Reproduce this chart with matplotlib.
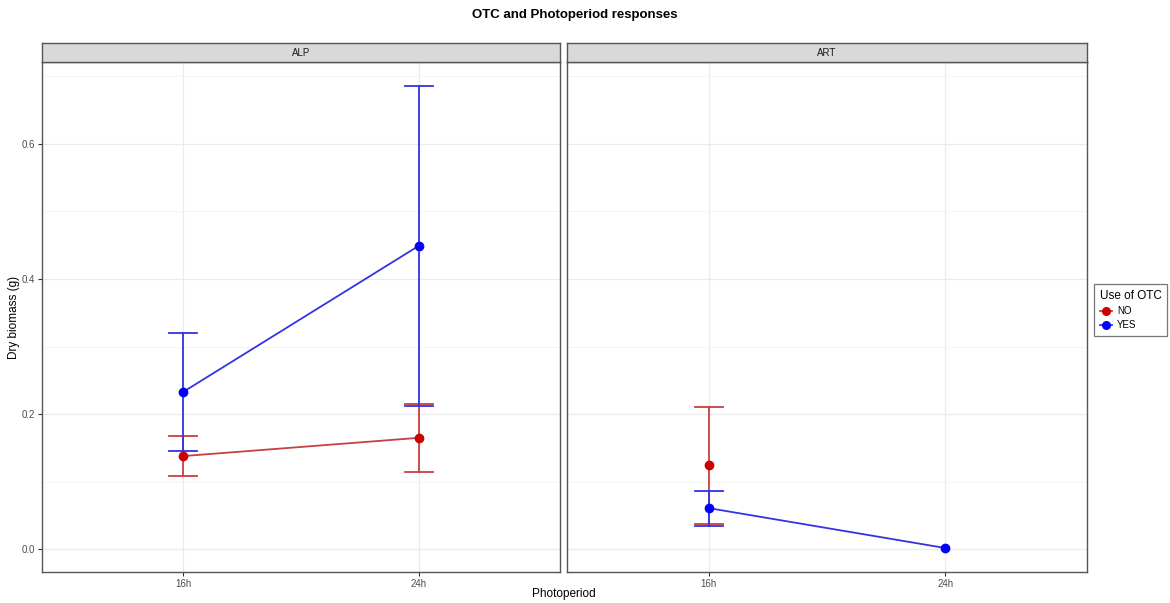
import numpy as np
import matplotlib.pyplot as plt
from matplotlib.lines import Line2D

plt.rcParams['font.family'] = ['Liberation Sans', 'DejaVu Sans']

# Photoperiod categories and panels
photoperiods = ['16h', '24h']
sites = ['ALP', 'ART']

# mean dry biomass with lower/upper error limits, per site and OTC use
no_mean = {'ALP': [0.138, 0.165], 'ART': [0.125, np.nan]}
no_low = {'ALP': [0.109, 0.115], 'ART': [0.038, np.nan]}
no_high = {'ALP': [0.168, 0.215], 'ART': [0.211, np.nan]}

yes_mean = {'ALP': [0.233, 0.449], 'ART': [0.061, 0.002]}
yes_low = {'ALP': [0.146, 0.212], 'ART': [0.035, np.nan]}
yes_high = {'ALP': [0.320, 0.686], 'ART': [0.087, np.nan]}

W, H = 1170, 603
fig = plt.figure(figsize=(W / 100, H / 100), dpi=100)

def px_axes(x0, y0, x1, y1):
    return fig.add_axes([x0 / W, 1 - y1 / H, (x1 - x0) / W, (y1 - y0) / H])

groups = [
    ('NO', no_mean, no_low, no_high, '#CC0000', '#C94040'),
    ('YES', yes_mean, yes_low, yes_high, '#0000FF', '#3333E6'),
]

panels = [(42, 560), (567, 1087)]
xpos = np.arange(len(photoperiods))
for site, (x0, x1) in zip(sites, panels):
    ax = px_axes(x0, 62, x1, 572)
    for name, mean, low, high, col, ecol in groups:
        m = np.array(mean[site])
        lo = np.array(low[site])
        hi = np.array(high[site])
        ok = ~np.isnan(m)
        ax.plot(xpos[ok], m[ok], color=ecol, lw=1.3, zorder=3)
        for x, a, b in zip(xpos, lo, hi):
            if np.isnan(a):
                continue
            ax.plot([x, x], [a, b], color=ecol, lw=1.3, zorder=2)
            ax.plot([x - 0.06, x + 0.06], [a, a], color=ecol, lw=1.3, zorder=2)
            ax.plot([x - 0.06, x + 0.06], [b, b], color=ecol, lw=1.3, zorder=2)
        ax.plot(xpos[ok], m[ok], 'o', color=col, ms=6, zorder=4, label=name)
    ax.set_xlim(-0.6, 1.6)
    ax.set_ylim(-0.0335, 0.721)
    ax.set_xticks(xpos)
    ax.set_xticklabels(photoperiods)
    ax.set_yticks([0.0, 0.2, 0.4, 0.6])
    ax.set_yticks([0.1, 0.3, 0.5, 0.7], minor=True)
    ax.grid(True, which='major', color='#EBEBEB', lw=0.9)
    ax.grid(True, which='minor', axis='y', color='#F4F4F4', lw=0.6)
    ax.set_axisbelow(True)
    ax.tick_params(which='major', length=3, pad=2, color='#333333', labelsize=7,
                   labelcolor='#4D4D4D')
    ax.tick_params(which='minor', length=0)
    for s in ax.spines.values():
        s.set_color('#555555')
        s.set_linewidth(1.0)
    if site != sites[0]:
        ax.tick_params(axis='y', left=False, labelleft=False)
    # strip label
    st = px_axes(x0, 43, x1, 62)
    st.set_facecolor('#D9D9D9')
    st.set_xticks([])
    st.set_yticks([])
    for s in st.spines.values():
        s.set_color('#555555')
        s.set_linewidth(1.0)
    st.text(0.5, 0.5, site, ha='center', va='center', fontsize=7, color='#1A1A1A',
            transform=st.transAxes)

fig.text(575 / W, 1 - 15 / H, 'OTC and Photoperiod responses', ha='center', va='center',
         fontsize=9.5, fontweight='bold')
fig.text(14 / W, 1 - 317 / H, 'Dry biomass (g)', rotation=90, ha='center', va='center',
         fontsize=8.5)
fig.text(564 / W, 1 - 594 / H, 'Photoperiod', ha='center', va='center', fontsize=8.5)

# legend with point + line keys
keys = [Line2D([], [], color=g[5], lw=1.3, marker='o', ms=5.5, markerfacecolor=g[4],
               markeredgecolor=g[4]) for g in groups]
leg = fig.legend(keys, [g[0] for g in groups], title='Use of OTC',
                 loc='upper left', bbox_to_anchor=(1089 / W, 1 - 279 / H),
                 fontsize=7, title_fontsize=8.5, frameon=True, fancybox=False,
                 edgecolor='#555555', handlelength=1.3, handletextpad=0.5,
                 borderpad=0.6, labelspacing=0.45)
leg.get_frame().set_linewidth(0.9)
leg._legend_box.align = 'left'

fig.savefig('out.png', dpi=100)
